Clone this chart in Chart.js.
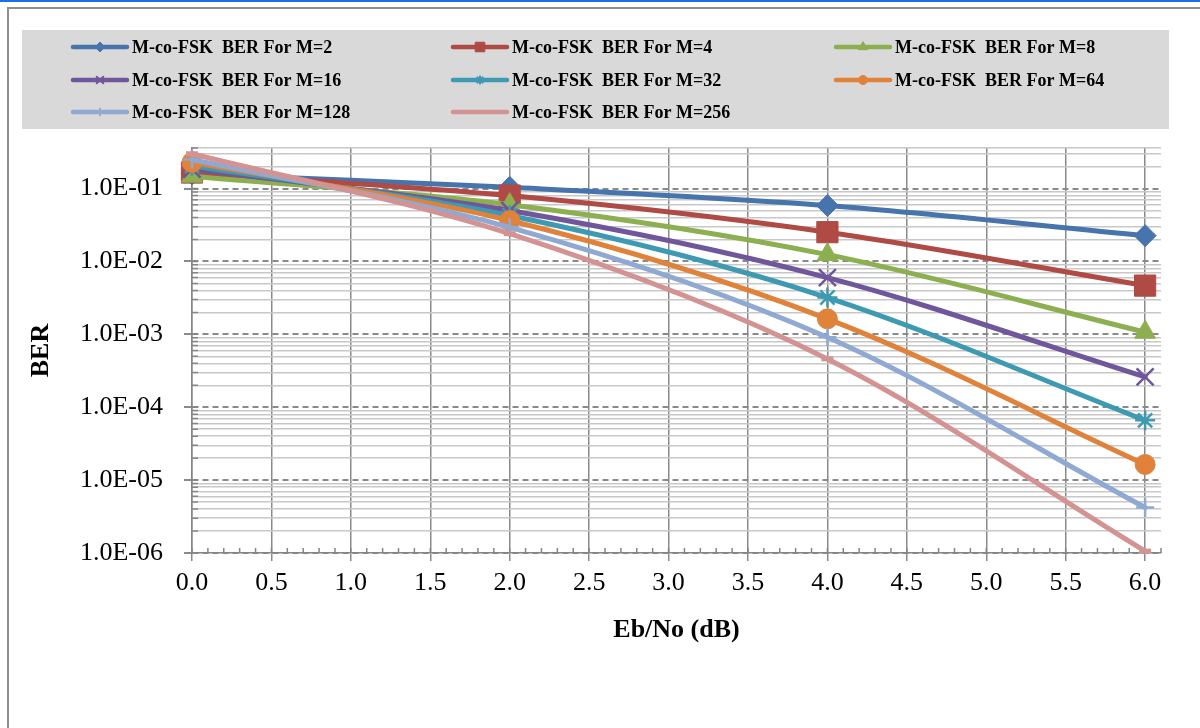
<!DOCTYPE html>
<html>
<head>
<meta charset="utf-8">
<script src="https://cdn.jsdelivr.net/npm/chart.js@4.4.1/dist/chart.umd.min.js"></script>
<style>
  html, body { margin: 0; padding: 0; background: #fff; }
  body { width: 1200px; height: 728px; position: relative; overflow: hidden; }
  #topline { position: absolute; left: 0; top: 0; width: 1200px; height: 2px; background: #1a6fe3; }
  #frame { position: absolute; left: 7px; top: 7px; width: 1300px; height: 800px;
           border-left: 2px solid #8e8e8e; border-top: 2px solid #8e8e8e; }
  #wrap { position: absolute; left: 0; top: 0; width: 1200px; height: 728px; }
</style>
</head>
<body>
<div id="topline"></div>
<div id="frame"></div>
<div id="wrap"><canvas id="myChart" width="1200" height="728"></canvas></div>
<script>
// Eb/No (dB)
var xValues = [0, 2, 4, 6];

var seriesLabels = [
    "M-co-FSK  BER For M=2",
    "M-co-FSK  BER For M=4",
    "M-co-FSK  BER For M=8",
    "M-co-FSK  BER For M=16",
    "M-co-FSK  BER For M=32",
    "M-co-FSK  BER For M=64",
    "M-co-FSK  BER For M=128",
    "M-co-FSK  BER For M=256"
];

// BER
var berM2   = [0.159, 0.104, 0.0585, 0.0226];
var berM4   = [0.166, 0.080, 0.0252, 0.00466];
var berM8   = [0.148, 0.060, 0.0124, 0.00107];
var berM16  = [0.185, 0.050, 0.0060, 0.00026];
var berM32  = [0.205, 0.0426, 0.0032, 0.000066];
var berM64  = [0.229, 0.0364, 0.00163, 0.0000164];
var berM128 = [0.25, 0.0294, 0.00091, 0.0000042];
var berM256 = [0.30, 0.0240, 0.00046, 0.00000106];

var xTicks = [0, 0.5, 1, 1.5, 2, 2.5, 3, 3.5, 4, 4.5, 5, 5.5, 6];
var yTicks = [1e-6, 1e-5, 1e-4, 1e-3, 1e-2, 1e-1];

var allSeries = [berM2, berM4, berM8, berM16, berM32, berM64, berM128, berM256];

var lineColors = ["#4774AC", "#B04A45", "#8CAF4F", "#70569A", "#3E9AB2", "#E0823A", "#8FA9D2", "#D49393"];
var markerStyles = ["rectRot", "rect", "triangle", "crossRot", "star", "circle", "cross", "line"];
var markerSizes = [11, 15, 12, 12, 10, 10, 9, 6];
var markerBorders = [1, 1, 1, 2.5, 2.5, 1, 2.5, 5];

var Y_MIN = 1e-6, Y_MAX = 0.36, X_MIN = 0, X_MAX = 6.1;

// minor grid values on the log axis
var yMinorTicks = [];
for (var k = -6; k <= -1; k++) {
    for (var m = 2; m <= 9; m++) {
        var v = m * Math.pow(10, k);
        if (v < Y_MAX) yMinorTicks.push(v);
    }
}
yMinorTicks.push(Y_MAX);

var legendCols = [73, 453, 836];
var legendRows = [47, 80, 112];

Chart.defaults.font.family = "'Liberation Serif', serif";
Chart.defaults.color = "#000";

function drawMarker(ctx, style, radius, width, x, y) {
    if (Chart.helpers && Chart.helpers.drawPoint) {
        Chart.helpers.drawPoint(ctx, { pointStyle: style, radius: radius, borderWidth: width, rotation: 0 }, x, y);
    }
}

// legend in a grey box, three columns
var boxLegend = {
    id: 'boxLegend',
    afterDraw: function (chart) {
        var ctx = chart.ctx;
        ctx.save();
        ctx.fillStyle = '#d9d9d9';
        ctx.fillRect(22, 30, 1147, 99);
        chart.data.datasets.forEach(function (ds, i) {
            var x = legendCols[i % 3];
            var y = legendRows[Math.floor(i / 3)];
            ctx.strokeStyle = ds.borderColor;
            ctx.lineWidth = 4.5;
            ctx.lineCap = 'round';
            ctx.beginPath();
            ctx.moveTo(x, y);
            ctx.lineTo(x + 54, y);
            ctx.stroke();
            ctx.lineCap = 'butt';
            ctx.fillStyle = ds.borderColor;
            ctx.lineWidth = Math.min(ds.pointBorderWidth, 2);
            if (ds.pointStyle !== 'line') {
                drawMarker(ctx, ds.pointStyle, ds.pointRadius * 0.45, ctx.lineWidth, x + 27, y);
            }
            ctx.fillStyle = '#000';
            ctx.font = "bold 18px 'Liberation Serif'";
            ctx.textBaseline = 'middle';
            ctx.textAlign = 'left';
            ctx.fillText(ds.label, x + 59, y + 1);
        });
        ctx.restore();
    }
};

// small inner tick marks on both axes
var minorTicks = {
    id: 'minorTicks',
    beforeDatasetsDraw: function (chart) {
        var ctx = chart.ctx;
        var xs = chart.scales.x, ys = chart.scales.y;
        var area = chart.chartArea;
        ctx.save();
        ctx.strokeStyle = '#868686';
        ctx.lineWidth = 1.5;
        ctx.beginPath();
        for (var i = 0; i <= 61; i++) {
            var px = xs.getPixelForValue(i / 10);
            ctx.moveTo(px, area.bottom);
            ctx.lineTo(px, area.bottom - 5);
        }
        yMinorTicks.concat(yTicks).forEach(function (v) {
            var py = ys.getPixelForValue(v);
            ctx.moveTo(area.left, py);
            ctx.lineTo(area.left + 6, py);
        });
        ctx.stroke();
        ctx.restore();
    }
};

var datasets = allSeries.map(function (vals, i) {
    return {
        label: seriesLabels[i],
        data: xValues.map(function (x, j) { return { x: x, y: vals[j] }; }),
        borderColor: lineColors[i],
        backgroundColor: lineColors[i],
        borderWidth: 5,
        borderCapStyle: 'round',
        borderJoinStyle: 'round',
        tension: 0.33,
        pointStyle: markerStyles[i],
        pointRadius: markerSizes[i],
        pointHoverRadius: markerSizes[i],
        pointBorderWidth: markerBorders[i],
        pointBackgroundColor: lineColors[i],
        pointBorderColor: lineColors[i],
        clip: false,
        order: allSeries.length - i
    };
});

new Chart("myChart", {
    type: "line",
    data: { datasets: datasets },
    plugins: [boxLegend, minorTicks],
    options: {
        responsive: false,
        animation: false,
        devicePixelRatio: 1,
        events: [],
        layout: { padding: { top: 148, right: 39, left: 0, bottom: 0 } },
        plugins: {
            legend: { display: false },
            title: { display: false },
            tooltip: { enabled: false }
        },
        scales: {
            x: {
                type: 'linear',
                position: 'bottom',
                min: X_MIN,
                max: X_MAX,
                afterBuildTicks: function (scale) {
                    scale.ticks = xTicks.map(function (v) { return { value: v }; });
                },
                afterFit: function (scale) { scale.height = 175; },
                ticks: {
                    font: { size: 26 },
                    color: '#000',
                    padding: 7,
                    maxRotation: 0,
                    callback: function (v) { return Number(v).toFixed(1); }
                },
                grid: { color: '#8a8a8a', lineWidth: 1.5, tickLength: 8, tickColor: '#8a8a8a' },
                border: { color: '#868686', width: 1.5 },
                title: {
                    display: true,
                    text: 'Eb/No (dB)',
                    font: { size: 26, weight: 'bold' },
                    padding: { top: 0, bottom: 82 }
                }
            },
            yMinor: {
                type: 'logarithmic',
                position: 'left',
                min: Y_MIN,
                max: Y_MAX,
                afterBuildTicks: function (scale) {
                    scale.ticks = yMinorTicks.map(function (v) { return { value: v }; });
                },
                afterFit: function (scale) { scale.width = 0; },
                ticks: { display: false },
                grid: { color: '#c8c8c8', lineWidth: 1.5, drawTicks: false },
                border: { display: false }
            },
            y: {
                type: 'logarithmic',
                position: 'left',
                min: Y_MIN,
                max: Y_MAX,
                afterBuildTicks: function (scale) {
                    scale.ticks = yTicks.map(function (v) { return { value: v }; });
                },
                afterFit: function (scale) { scale.width = 192; },
                ticks: {
                    font: { size: 26 },
                    color: '#000',
                    padding: 21,
                    autoSkip: false,
                    callback: function (v) {
                        var e = Math.round(Math.log10(v));
                        return '1.0E-' + String(-e).padStart(2, '0');
                    }
                },
                grid: { color: '#8a8a8a', lineWidth: 2, tickLength: 8, tickColor: '#8a8a8a', tickBorderDash: [] },
                border: { color: '#868686', width: 1.5, dash: [6, 4] },
                title: {
                    display: true,
                    text: 'BER',
                    font: { size: 26, weight: 'bold' },
                    padding: { top: 26, bottom: 0 }
                }
            }
        }
    }
});
</script>
</body>
</html>
